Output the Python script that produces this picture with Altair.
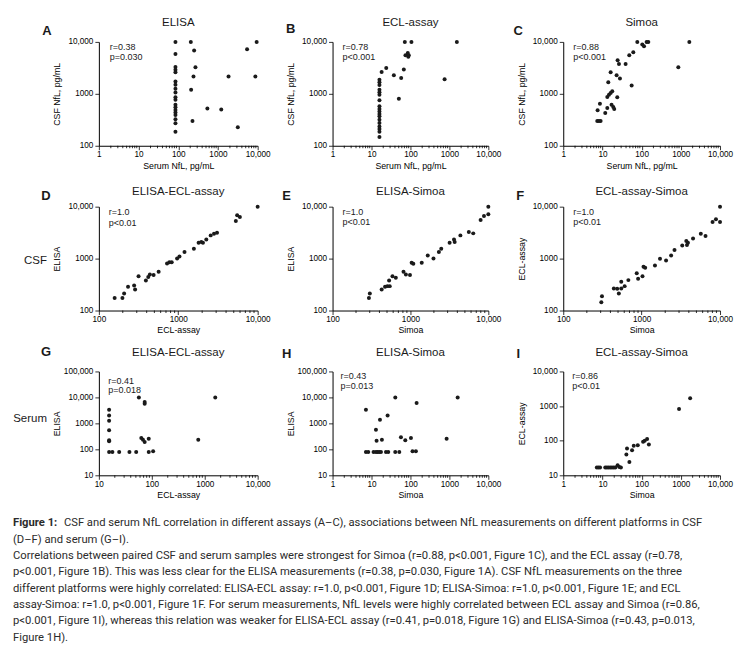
import altair as alt
import pandas as pd

FONT = "Liberation Sans"
CAPFONT = "Roboto"
INK = "#1a1a1a"
CAPINK = "#2b2b2b"

# ---------------- data ----------------
# A: ELISA, serum (x) vs CSF (y)
A_x = [85, 85, 85, 85, 85, 85, 85, 85, 85, 85, 85, 85, 85, 85, 85, 85, 85, 85, 85,
       207, 251, 271, 242, 211, 228, 541, 1211, 1848, 3162, 5412, 9441, 8750]
A_y = [10000, 5860, 3280, 2915, 2590, 1734, 1494, 1250, 1061, 861, 765, 613, 552, 490, 435, 393, 324, 271, 187,
       10000, 6800, 3240, 2160, 1194, 300, 520, 498, 2160, 226, 7210, 10000, 2160]
# B: ECL-assay, serum (x) vs CSF (y)
B_x = [16, 16, 16, 16, 16, 16, 16, 16, 16, 16, 16, 16, 16, 16, 16, 16, 16, 16,
       18.2, 23.9, 37.5, 57.8, 50.4, 67.6, 71.7, 106, 74.5, 85.5, 90.6, 88, 753, 1554]
B_y = [1876, 1666, 1479, 1202, 1068, 963, 750, 574, 510, 459, 408, 368, 318, 274, 236, 210, 186, 147,
       2636, 3150, 2274, 2020, 807, 2925, 10000, 10000, 5530, 6140, 5530, 5200, 1905, 10000]
# C: Simoa, serum (x) vs CSF (y)
C_x = [7.53, 7.38, 8.14, 8.98, 8.63, 11.8, 13.3, 13.3, 14.1, 14.7, 16.2, 16.2, 17.8, 17.1, 18.9, 20.0,
       23.0, 23.9, 24.4, 26.4, 28.0, 39.0, 48.4, 55.6, 61.3, 77.5, 104, 115, 134, 148, 863, 1648]
C_y = [481, 299, 299, 299, 646, 427, 533, 869, 1666, 963, 1038, 2600, 1117, 618, 557, 510,
       2274, 855, 4430, 3765, 1964, 3765, 5530, 1440, 6320, 10000, 8890, 8250, 10000, 10000, 3245, 10000]
# D: CSF, ECL-assay (x) vs ELISA (y)
D_x = [158, 198, 208, 233, 278, 286, 316, 391, 419, 439, 489, 566, 722, 772, 827, 967, 1035, 1198,
       1573, 1804, 1950, 2046, 2255, 2560, 2820, 3078, 5310, 5520, 5970, 10000]
D_y = [175, 175, 213, 286, 304, 254, 459, 379, 440, 495, 481, 557, 807, 855, 855, 1006, 1101, 1335,
       1548, 2020, 2080, 2020, 2343, 2800, 3015, 3150, 5290, 6810, 6320, 10000]
# E: CSF, Simoa (x) vs ELISA (y)
E_x = [293, 301, 427, 472, 506, 542, 532, 588, 649, 815, 874, 986, 1036, 1089, 1396, 1668, 1976,
       2317, 2485, 3183, 3624, 3697, 4378, 5617, 6398, 7960, 8790, 10000, 10000]
E_y = [175, 213, 254, 286, 295, 295, 379, 459, 427, 557, 495, 481, 832, 794, 832, 1151, 1007,
       1335, 1549, 2020, 2343, 2080, 2800, 3245, 3060, 5530, 6610, 10000, 7110]
# F: CSF, Simoa (x) vs ECL-assay (y)
F_x = [306, 312, 442, 488, 512, 550, 550, 607, 677, 866, 902, 1026, 1057, 1110, 1479, 1715, 2050,
       2379, 2626, 3297, 3714, 3787, 3898, 4527, 5686, 6533, 8035, 8875, 10000, 10000]
F_y = [145, 189, 266, 262, 213, 266, 357, 295, 385, 525, 408, 459, 695, 665, 738, 993, 922,
       1151, 1460, 1795, 2177, 1822, 2020, 2447, 3015, 2716, 5060, 5700, 5060, 10000]
# G: serum, ECL-assay (x) vs ELISA (y)
G_x = [15.6, 15.6, 15.6, 15.6, 15.6, 15.6, 15.6, 18, 24.2, 37.8, 50.7, 57, 73.3, 73.3, 63.3, 68.1,
       73.3, 87.5, 87.5, 106, 755, 1581]
G_y = [3360, 2030, 1267, 538, 222, 203, 79, 79, 79, 79, 79, 10000, 6620, 5700, 273, 235,
       191, 257, 79, 84, 235, 10000]
# H: serum, Simoa (x) vs ELISA (y)
H_x = [7.19, 7.19, 8.25, 11.3, 13.0, 14.3, 15.8, 17.5, 23.5, 26.9, 40.7, 51.7, 113, 138,
       13.0, 13.5, 16.5, 18.5, 25.9, 40.8, 57, 73.7, 103, 144, 849, 1630]
H_y = [3360, 79, 79, 79, 79, 79, 79, 79, 79, 79, 79, 79, 84, 84,
       570, 215, 1385, 235, 2030, 10000, 290, 222, 273, 6050, 257, 10000]
# I: serum, Simoa (x) vs ECL-assay (y)
I_x = [7.19, 7.9, 8.7, 11.8, 13.0, 14.3, 15.8, 17.5, 19.3, 21.3, 24.4, 26.9, 29.6,
       40.8, 42.4, 48.7, 57, 62.9, 79.7, 109, 120, 138, 153, 901, 1730]
I_y = [16.7, 16.7, 16.7, 16.7, 16.7, 16.7, 16.7, 16.7, 16.7, 16.7, 19.5, 17.5, 16.7,
       39.8, 59.4, 24.4, 53.2, 71.1, 74.3, 92.9, 99.3, 111, 77.6, 826, 1686]

LETTERS = ["A", "B", "C", "D", "E", "F", "G", "H", "I"]
TITLES = ["ELISA", "ECL-assay", "Simoa", "ELISA-ECL-assay", "ELISA-Simoa", "ECL-assay-Simoa",
          "ELISA-ECL-assay", "ELISA-Simoa", "ECL-assay-Simoa"]
X_TITLES = ["Serum NfL, pg/mL"] * 3 + ["ECL-assay", "Simoa", "Simoa", "ECL-assay", "Simoa", "Simoa"]
Y_TITLES = ["CSF NfL, pg/mL"] * 3 + ["ELISA", "ELISA", "ECL-assay", "ELISA", "ELISA", "ECL-assay"]
R_TEXT = ["r=0.38", "r=0.78", "r=0.88", "r=1.0", "r=1.0", "r=1.0", "r=0.41", "r=0.43", "r=0.86"]
P_TEXT = ["p=0.030", "p<0.001", "p<0.001", "p<0.01", "p<0.01", "p<0.01", "p=0.018", "p=0.013", "p<0.01"]
X_DOMAINS = [[1, 10000]] * 3 + [[100, 10000]] * 3 + [[10, 10000], [1, 10000], [1, 10000]]
Y_DOMAINS = [[100, 10000]] * 6 + [[10, 100000], [10, 100000], [10, 10000]]
XS = [A_x, B_x, C_x, D_x, E_x, F_x, G_x, H_x, I_x]
YS = [A_y, B_y, C_y, D_y, E_y, F_y, G_y, H_y, I_y]
ROW_LABELS = {3: "CSF", 6: "Serum"}

CAPTION_HEAD = "Figure 1:"
CAPTION_LINE1 = ("CSF and serum NfL correlation in different assays (A\u2013C), associations between NfL "
                 "measurements on different platforms in CSF")
CAPTION_REST = [
    "(D\u2013F) and serum (G\u2013I).",
    "Correlations between paired CSF and serum samples were strongest for Simoa (r=0.88, p<0.001, Figure 1C), and the ECL assay (r=0.78,",
    "p<0.001, Figure 1B). This was less clear for the ELISA measurements (r=0.38, p=0.030, Figure 1A). CSF NfL measurements on the three",
    "different platforms were highly correlated: ELISA-ECL assay: r=1.0, p<0.001, Figure 1D; ELISA-Simoa: r=1.0, p<0.001, Figure 1E; and ECL",
    "assay-Simoa: r=1.0, p<0.001, Figure 1F. For serum measurements, NfL levels were highly correlated between ECL assay and Simoa (r=0.86,",
    "p<0.001, Figure 1I), whereas this relation was weaker for ELISA-ECL assay (r=0.41, p=0.018, Figure 1G) and ELISA-Simoa (r=0.43, p=0.013,",
    "Figure 1H).",
]

# ---------------- layout / style ----------------
COL_W = [159, 156, 157]
ROW_H = 104
LETTER_POS = [(-52, -11), (-42, -12.5), (-45, -11), (-53, -11), (-46, -11), (-43, -11),
              (-53, -19), (-46, -17), (-45, -17)]
STATS_POS = [(11, 1, 10), (10, 1, 10), (10, 1, 10), (10, 1, 11), (10, 1, 10.5), (10, 1, 10.5),
             (9.5, 6, 9), (8, 0.5, 10), (9, 0.5, 10)]
TITLE_Y = [-18.6, -18.6, -18.6, -15, -15, -15, -18.6, -18.6, -18.6]
CAP_SIZE = 11.25

LBL = "datum.value >= 10000 ? format(datum.value, ',') : format(datum.value, 'd')"

one = pd.DataFrame({"k": [0]})


def decade_ticks(lo, hi):
    out, v = [], lo
    while v <= hi * 1.0001:
        out.append(v)
        v *= 10
    return out


def minor_ticks(lo, hi):
    out, v = [], lo
    while v < hi * 0.999:
        out += [v * k for k in range(2, 10)]
        v *= 10
    return out


def text_layer(txt, x, y, font=FONT, color=INK, **kw):
    return alt.Chart(one).mark_text(text=txt, font=font, color=color, **kw).encode(
        x=alt.value(x), y=alt.value(y))


def make_panel(i):
    w = COL_W[i % 3]
    h = ROW_H
    xs = alt.Scale(type="log", domain=X_DOMAINS[i], nice=False)
    ys = alt.Scale(type="log", domain=Y_DOMAINS[i], nice=False)
    xax = alt.Axis(values=decade_ticks(*X_DOMAINS[i]), title=X_TITLES[i], labelExpr=LBL,
                   labelFlush=False, labelOverlap=False, tickSize=4, labelPadding=1,
                   titleY=19.5, titleBaseline="middle")
    yax = alt.Axis(values=decade_ticks(*Y_DOMAINS[i]), title=Y_TITLES[i], labelExpr=LBL,
                   labelFlush=False, labelOverlap=False, tickSize=4, labelPadding=2,
                   titleX=-42, titleBaseline="middle")
    df = pd.DataFrame({"x": XS[i], "y": YS[i]})
    pts = alt.Chart(df).mark_circle(size=16, color=INK, opacity=1).encode(
        x=alt.X("x:Q", scale=xs, axis=xax), y=alt.Y("y:Q", scale=ys, axis=yax))
    mdf = pd.DataFrame({"x": minor_ticks(*X_DOMAINS[i])})
    minor = alt.Chart(mdf).mark_rule(color="black", strokeWidth=0.8).encode(
        x=alt.X("x:Q", scale=xs, axis=xax), y=alt.value(h), y2=alt.value(h + 2.5))
    sx, sy, lh = STATS_POS[i]
    stats = text_layer([R_TEXT[i], P_TEXT[i]], sx, sy, align="left", baseline="top",
                       fontSize=9, lineHeight=lh)
    lx, ly = LETTER_POS[i]
    letter = text_layer(LETTERS[i], lx, ly, align="center", baseline="middle",
                        fontSize=13, fontWeight="bold")
    title = text_layer(TITLES[i], w / 2, TITLE_Y[i], align="center", baseline="middle",
                       fontSize=11.5)
    layers = [minor, pts, stats, letter, title]
    if i in ROW_LABELS:
        ry = 54 if i == 3 else 48
        layers.append(text_layer(ROW_LABELS[i], -52, ry, align="right", baseline="middle",
                                 fontSize=11.5))
    if i == 6:
        layers.append(text_layer(CAPTION_HEAD, -86, 146, font=CAPFONT, color=CAPINK,
                                 align="left", baseline="top", fontSize=CAP_SIZE, fontWeight="bold"))
        layers.append(text_layer(CAPTION_LINE1, -35, 146, font=CAPFONT, color=CAPINK,
                                 align="left", baseline="top", fontSize=CAP_SIZE))
        layers.append(text_layer(CAPTION_REST, -86, 162.4, font=CAPFONT, color=CAPINK,
                                 align="left", baseline="top", fontSize=CAP_SIZE, lineHeight=16.4))
    return alt.layer(*layers).properties(width=w, height=h)


panels = [make_panel(i) for i in range(9)]

chart = alt.concat(*panels, columns=3, spacing={"row": 61, "column": 75}, bounds="flush").properties(
    padding={"left": 5, "top": 8.5, "right": 5, "bottom": 5}
).configure_view(strokeWidth=0).configure_axis(
    domainColor="black", tickColor="black", labelColor="black", titleColor="black",
    labelFont=FONT, titleFont=FONT, labelFontSize=8.2, titleFontSize=8.8,
    titleFontWeight="normal", grid=False, domainWidth=1, tickWidth=0.8
)

chart.save("out.html", embed_options={"renderer": "svg", "actions": False})
